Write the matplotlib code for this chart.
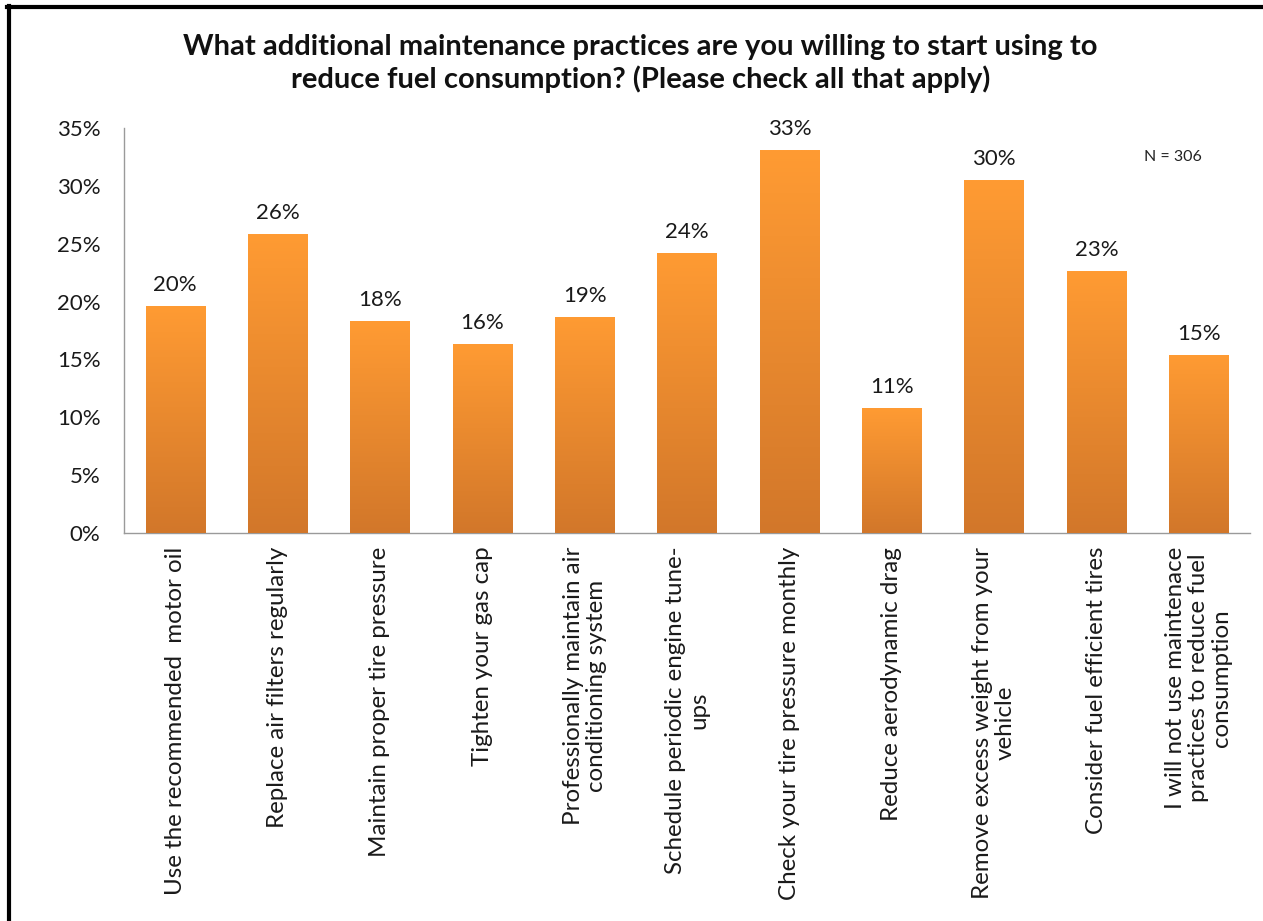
import matplotlib
matplotlib.use("Agg")
import matplotlib.pyplot as plt
import numpy as np
from matplotlib.colors import LinearSegmentedColormap
from matplotlib.lines import Line2D

categories = [
    "Use the recommended  motor oil",
    "Replace air filters regularly",
    "Maintain proper tire pressure",
    "Tighten your gas cap",
    "Professionally maintain air\nconditioning system",
    "Schedule periodic engine tune-\nups",
    "Check your tire pressure monthly",
    "Reduce aerodynamic drag",
    "Remove excess weight from your\nvehicle",
    "Consider fuel efficient tires",
    "I will not use maintenace\npractices to reduce fuel\nconsumption",
]
values = [19.6, 25.8, 18.3, 16.3, 18.7, 24.2, 33.1, 10.8, 30.5, 22.6, 15.4]
yticks = [0, 5, 10, 15, 20, 25, 30, 35]
title = ("What additional maintenance practices are you willing to start using to\n"
         "reduce fuel consumption? (Please check all that apply)")
note = "N = 306"

plt.rcParams['font.family'] = ['Lato', 'DejaVu Sans']

fig = plt.figure(figsize=(12.63, 9.21), dpi=100)
ax = fig.add_axes([0.0982, 0.4213, 0.8915, 0.4397])

x = np.arange(len(categories))
bars = ax.bar(x, values, width=0.58, color="#F0902F", edgecolor="none", zorder=2)

grad_cmap = LinearSegmentedColormap.from_list("bar_grad", ["#D2772A", "#FF9B33"])
grad = np.linspace(0, 1, 256).reshape(-1, 1)
for b in bars:
    x0, y0 = b.get_x(), b.get_y()
    w, h = b.get_width(), b.get_height()
    im = ax.imshow(grad, cmap=grad_cmap, origin="lower", aspect="auto",
                   extent=[x0, x0 + w, y0, y0 + h], zorder=3, interpolation="bilinear")
    im.set_clip_path(b)

for xi, v in zip(x, values):
    ax.annotate(f"{v:.0f}%", (xi, v), xytext=(0, 8), textcoords="offset points",
                ha="center", va="bottom", fontsize=16, color="#1a1a1a", zorder=4)

ax.set_xlim(-0.5, len(categories) - 0.5)
ax.set_ylim(0, 35)
ax.set_yticks(yticks)
ax.set_yticklabels([f"{t}%" for t in yticks], fontsize=16, color="#1a1a1a")
ax.set_xticks(x)
ax.set_xticklabels(categories, rotation=90, ha="center", va="top",
                   multialignment="center", fontsize=17.4, color="#1a1a1a",
                   linespacing=1.12)
ax.tick_params(axis="y", length=0, pad=17)
ax.tick_params(axis="x", length=0, pad=10)

for side in ("top", "right"):
    ax.spines[side].set_visible(False)
for side in ("left", "bottom"):
    ax.spines[side].set_color("#9a9a9a")
    ax.spines[side].set_linewidth(1.0)

fig.text(0.507, 0.931, title, ha="center", va="center", fontsize=21,
         fontweight="bold", color="#111111", linespacing=1.25)
fig.text(0.929, 0.829, note, ha="center", va="center", fontsize=11.5, color="#222222")

# frame along the top and left edges
fig.add_artist(Line2D([0.0055, 1.0], [0.9925, 0.9925], transform=fig.transFigure,
                      color="black", linewidth=3))
fig.add_artist(Line2D([0.0075, 0.0075], [0.0, 0.9935], transform=fig.transFigure,
                      color="black", linewidth=3))

fig.savefig("out.png", dpi=100)
